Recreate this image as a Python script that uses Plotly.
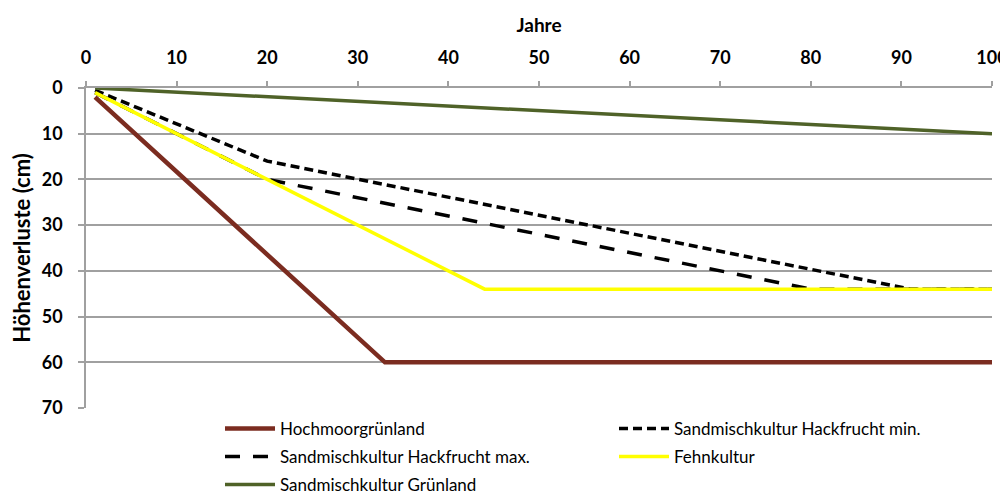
import plotly.graph_objects as go

# Data (years, height loss in cm)
hoch_x = [1, 33, 100]
hoch_y = [2, 60, 60]

min_x = [1, 20, 91, 100]
min_y = [0.5, 16, 44, 44]

max_x = [1, 20, 80, 100]
max_y = [1, 20, 44, 44]

fehn_x = [1, 44, 100]
fehn_y = [1, 44, 44]

gruen_x = [1, 100]
gruen_y = [0, 10]

names = ["Hochmoorgrünland", "Sandmischkultur Hackfrucht min.",
         "Sandmischkultur Hackfrucht max.", "Fehnkultur",
         "Sandmischkultur Grünland"]

x_ticks = list(range(0, 101, 10))
y_ticks = list(range(0, 71, 10))

fig = go.Figure()
fig.add_trace(go.Scatter(x=hoch_x, y=hoch_y, mode="lines", name=names[0], legend="legend",
                         line=dict(color="#7B2C20", width=4.5)))
fig.add_trace(go.Scatter(x=min_x, y=min_y, mode="lines", name=names[1], legend="legend2",
                         line=dict(color="#000000", width=3.5, dash="9px,5px")))
fig.add_trace(go.Scatter(x=max_x, y=max_y, mode="lines", name=names[2], legend="legend3",
                         line=dict(color="#000000", width=3.5, dash="15px,13px")))
fig.add_trace(go.Scatter(x=fehn_x, y=fehn_y, mode="lines", name=names[3], legend="legend4",
                         line=dict(color="#FFFF00", width=3.5)))
fig.add_trace(go.Scatter(x=gruen_x, y=gruen_y, mode="lines", name=names[4], legend="legend5",
                         line=dict(color="#4F6228", width=3.5)))

font_family = "Lato, 'Open Sans', sans-serif"

# page body has an 8px default margin, so the figure is drawn 8px in and down
W, H = 1008, 490
OFF = 8


def leg(px, py):
    return dict(orientation="h", xref="container", yref="container",
                x=(px - OFF) / W, y=1 - (py - OFF) / H, xanchor="left", yanchor="middle",
                itemwidth=50, font=dict(size=17, family=font_family),
                bgcolor="rgba(0,0,0,0)")


fig.update_layout(
    width=W, height=H,
    margin=dict(l=86 - OFF, r=W - (992 - OFF), t=88 - OFF, b=H - (408 - OFF), autoexpand=False),
    paper_bgcolor="white", plot_bgcolor="white",
    font=dict(family=font_family, color="#000000"),
    showlegend=True,
    legend=leg(220, 429),
    legend2=leg(614, 429),
    legend3=leg(220, 457),
    legend4=leg(614, 457),
    legend5=leg(220, 485),
    xaxis=dict(side="top", range=[0, 100], tickvals=x_ticks,
               ticktext=[str(v) for v in x_ticks],
               showgrid=False, showline=True, linecolor="#A0A0A0", linewidth=1.5,
               ticks="outside", ticklen=5, tickcolor="#A0A0A0", tickwidth=1.5,
               ticklabelstandoff=10, ticklabeloverflow="allow",
               tickfont=dict(size=18, family=font_family, weight="bold"),
               title=dict(text="<b>Jahre</b>", font=dict(size=19, family=font_family),
                          standoff=8),
               zeroline=False, fixedrange=True, automargin=False),
    yaxis=dict(range=[70, 0], tickvals=y_ticks,
               ticktext=[str(v) for v in y_ticks],
               showgrid=True, gridcolor="#A0A0A0", gridwidth=1.5,
               showline=True, linecolor="#A0A0A0", linewidth=1.5,
               ticks="outside", ticklen=6, tickcolor="#A0A0A0", tickwidth=1.5,
               ticklabelstandoff=12,
               tickfont=dict(size=18, family=font_family, weight="bold"),
               title=dict(text="<b>Höhenverluste (cm)</b>", font=dict(size=22, family=font_family),
                          standoff=6),
               zeroline=False, fixedrange=True, automargin=False),
)

fig.write_html("out.html")
